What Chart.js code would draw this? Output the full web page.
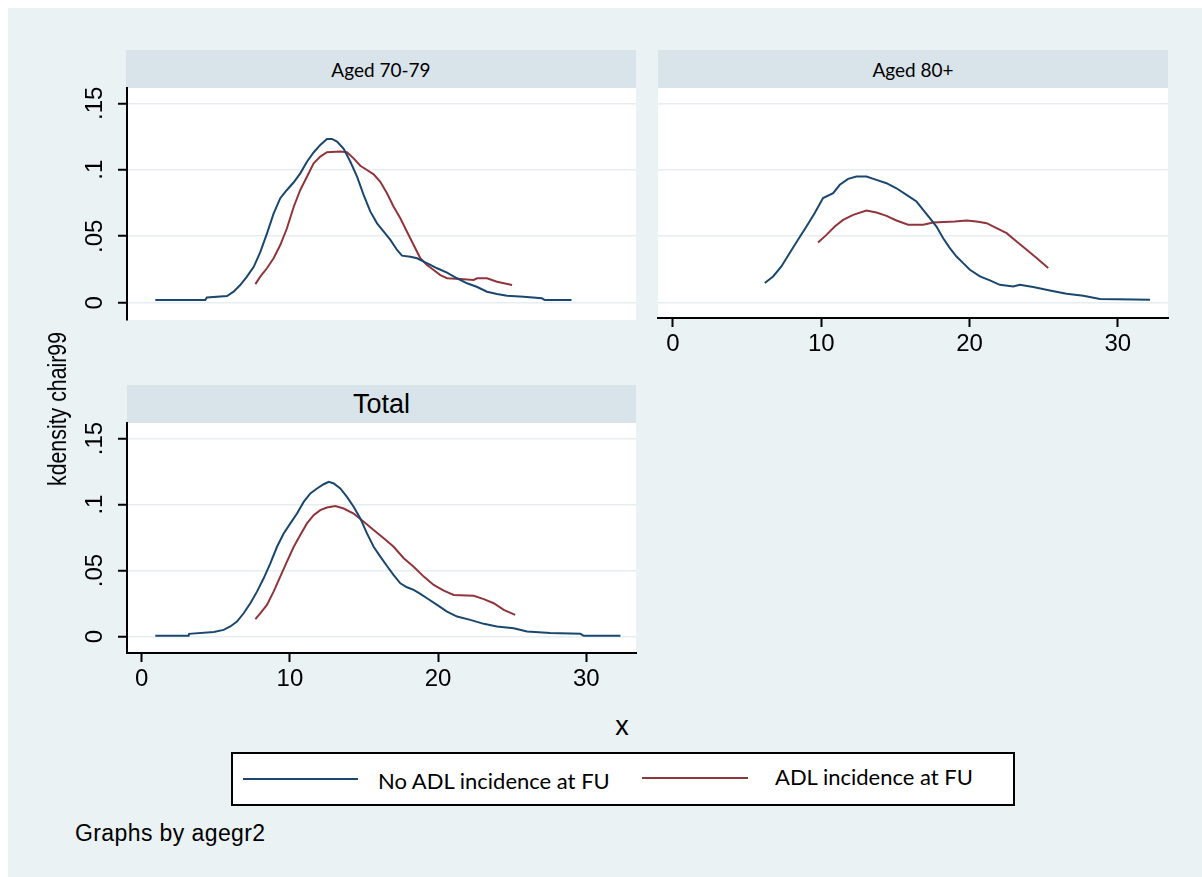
<!DOCTYPE html>
<html>
<head>
<meta charset="utf-8">
<script src="https://cdn.jsdelivr.net/npm/chart.js@4.4.1/dist/chart.umd.min.js"></script>
<style>
html,body{margin:0;padding:0;background:#fff;}
body{width:1202px;height:877px;position:relative;overflow:hidden;font-family:"Liberation Sans",Arial,sans-serif;color:#000;}
#bg{position:absolute;left:8px;top:8px;width:1194px;height:869px;background:#EAF2F3;}
.strip{position:absolute;background:#D9E4EA;display:flex;align-items:center;justify-content:center;}
.lato{font-family:Lato,"Open Sans",sans-serif;}
canvas{position:absolute;}
.abs{position:absolute;white-space:nowrap;}
#legend{position:absolute;left:231px;top:752px;width:784px;height:54px;box-sizing:border-box;border:2px solid #000;background:#fff;}
.lline{position:absolute;height:2px;}
</style>
</head>
<body>
<div id="bg"></div>

<div class="strip lato" style="left:126px;top:50px;width:510px;height:38px;font-size:19px;padding-top:1px;box-sizing:border-box;">Aged 70-79</div>
<div class="strip lato" style="left:658px;top:50px;width:510px;height:38px;font-size:19px;padding-top:1px;box-sizing:border-box;">Aged 80+</div>
<div class="strip" style="left:127px;top:385px;width:509px;height:38px;font-size:27px;">Total</div>

<canvas id="c1" width="600" height="250" style="left:40px;top:80px;width:600px;height:250px;"></canvas>
<canvas id="c2" width="600" height="300" style="left:600px;top:80px;width:600px;height:300px;"></canvas>
<canvas id="c3" width="600" height="285" style="left:40px;top:415px;width:600px;height:285px;"></canvas>

<div class="abs" style="left:57px;top:409px;font-size:26px;line-height:26px;transform:translate(-50%,-50%) rotate(-90deg) scaleX(0.82);">kdensity chair99</div>
<div class="abs" style="left:622px;top:726px;font-size:27px;line-height:27px;transform:translate(-50%,-50%);">x</div>

<div id="legend">
  <div class="lline" style="left:10px;top:24px;width:115px;background:#1A476F;"></div>
  <div class="abs lato" style="left:145px;top:27px;font-size:22px;line-height:22px;transform:translateY(-50%);">No ADL incidence at FU</div>
  <div class="lline" style="left:409px;top:23px;width:106px;background:#90353B;"></div>
  <div class="abs lato" style="left:542px;top:23px;font-size:22px;line-height:22px;transform:translateY(-50%);">ADL incidence at FU</div>
</div>

<div class="abs" style="left:75px;top:833px;font-size:23px;line-height:23px;letter-spacing:0.4px;transform:translateY(-50%);">Graphs by agegr2</div>

<script>
// ---- tick values / labels ----
const xTickVals = [0, 10, 20, 30];
const yTickVals = [0, 0.05, 0.1, 0.15];
const yTickLabels = ['0', '.05', '.1', '.15'];
const panelTitles = ['Aged 70-79', 'Aged 80+', 'Total'];
const seriesNames = ['No ADL incidence at FU', 'ADL incidence at FU'];

// ---- Aged 70-79 ----
const p1NoAdlX = [0.92, 4.29, 4.4, 5.76, 6.2, 6.65, 7.1, 7.56, 8.0, 8.45, 8.9, 9.35, 9.8, 10.26, 10.7, 11.15, 11.6, 12.05, 12.5, 12.84, 13.18, 13.63, 14.08, 14.53, 14.98, 15.43, 15.88, 16.33, 16.78, 17.23, 17.56, 18.13, 18.58, 19.03, 19.48, 19.93, 20.6, 21.28, 21.95, 22.6, 23.3, 23.97, 24.65, 25.77, 27.0, 27.2, 29.0];
const p1NoAdlY = [0.002, 0.002, 0.004, 0.005, 0.0083, 0.0133, 0.0196, 0.027, 0.038, 0.052, 0.067, 0.0786, 0.0848, 0.0906, 0.0973, 0.106, 0.113, 0.1187, 0.1232, 0.1232, 0.1212, 0.1157, 0.106, 0.0948, 0.081, 0.0685, 0.0597, 0.0534, 0.0472, 0.0397, 0.0354, 0.0346, 0.0334, 0.0309, 0.0284, 0.0259, 0.0226, 0.0184, 0.0146, 0.012, 0.0083, 0.0065, 0.0053, 0.0045, 0.0033, 0.002, 0.002];
const p1AdlX = [7.67, 8.0, 8.45, 8.9, 9.35, 9.8, 10.26, 10.7, 11.15, 11.6, 12.05, 12.5, 13.4, 13.85, 14.3, 14.75, 15.2, 15.65, 16.1, 16.55, 17.0, 17.45, 17.9, 18.35, 18.8, 19.25, 19.7, 20.15, 20.6, 21.5, 22.4, 22.63, 23.3, 23.97, 24.99];
const p1AdlY = [0.014, 0.0196, 0.0259, 0.0334, 0.0434, 0.056, 0.0722, 0.0848, 0.0948, 0.1049, 0.1099, 0.1132, 0.1137, 0.1132, 0.1086, 0.103, 0.0998, 0.0966, 0.091, 0.0823, 0.0722, 0.0635, 0.0534, 0.0434, 0.0334, 0.0284, 0.0246, 0.0208, 0.0184, 0.0178, 0.0171, 0.0184, 0.0184, 0.0158, 0.0133];

// ---- Aged 80+ ----
const p2NoAdlX = [6.19, 6.75, 7.31, 7.87, 8.43, 9.0, 9.56, 10.12, 10.8, 11.25, 11.81, 12.37, 13.05, 13.72, 14.4, 15.07, 15.75, 16.42, 16.87, 17.32, 17.77, 18.22, 18.67, 19.12, 19.57, 20.02, 20.7, 21.37, 22.04, 22.94, 23.39, 24.29, 25.42, 26.54, 27.67, 28.79, 32.17];
const p2NoAdlY = [0.0146, 0.0196, 0.0271, 0.0372, 0.0472, 0.0572, 0.0673, 0.0786, 0.0823, 0.0886, 0.0931, 0.0948, 0.0948, 0.0923, 0.0898, 0.086, 0.081, 0.076, 0.0698, 0.0635, 0.0572, 0.0484, 0.0409, 0.0346, 0.0296, 0.0246, 0.0196, 0.0166, 0.0133, 0.012, 0.0133, 0.0116, 0.009, 0.0065, 0.005, 0.0026, 0.002];
const p2AdlX = [9.78, 10.35, 10.91, 11.47, 12.15, 13.05, 13.72, 14.4, 15.07, 15.86, 16.87, 17.54, 19.0, 19.8, 20.47, 21.15, 21.82, 22.5, 23.17, 23.85, 24.52, 25.3];
const p2AdlY = [0.0451, 0.0509, 0.0572, 0.0622, 0.066, 0.0692, 0.0677, 0.0652, 0.0617, 0.0585, 0.0585, 0.0602, 0.061, 0.0617, 0.061, 0.0597, 0.056, 0.0522, 0.0459, 0.0397, 0.0334, 0.0259];

// ---- Total ----
const p3NoAdlX = [0.92, 3.17, 3.2, 4.86, 5.53, 5.98, 6.43, 6.88, 7.33, 7.78, 8.23, 8.68, 9.13, 9.58, 10.03, 10.48, 10.93, 11.38, 11.83, 12.28, 12.62, 12.96, 13.4, 13.85, 14.3, 14.75, 15.2, 15.65, 16.1, 16.55, 17.0, 17.45, 17.9, 18.35, 18.8, 19.25, 19.93, 20.6, 21.28, 22.17, 23.08, 23.97, 25.1, 26.0, 27.57, 29.6, 29.82, 32.3];
const p3NoAdlY = [0.0005, 0.0005, 0.002, 0.0035, 0.005, 0.0076, 0.0113, 0.0176, 0.0252, 0.034, 0.0441, 0.0554, 0.068, 0.0781, 0.0857, 0.0932, 0.102, 0.1084, 0.1122, 0.1154, 0.1172, 0.116, 0.1122, 0.1058, 0.0983, 0.0895, 0.0781, 0.068, 0.0605, 0.0534, 0.0466, 0.0403, 0.0373, 0.0353, 0.0323, 0.029, 0.024, 0.0189, 0.0151, 0.0126, 0.0096, 0.0076, 0.0063, 0.0038, 0.0026, 0.002, 0.0005, 0.0005];
const p3AdlX = [7.67, 8.0, 8.45, 8.9, 9.35, 9.8, 10.26, 10.7, 11.15, 11.6, 12.05, 12.5, 13.06, 13.63, 14.3, 14.98, 15.65, 16.33, 17.0, 17.68, 18.35, 19.03, 19.7, 20.38, 21.05, 22.4, 23.08, 23.75, 24.43, 25.2];
const p3AdlY = [0.0131, 0.0176, 0.024, 0.034, 0.0454, 0.0567, 0.068, 0.0769, 0.0857, 0.092, 0.0958, 0.0978, 0.0988, 0.097, 0.0932, 0.0869, 0.0807, 0.0744, 0.068, 0.0593, 0.0529, 0.0454, 0.0391, 0.0348, 0.0315, 0.0308, 0.0283, 0.0252, 0.0202, 0.0164];

const NAVY = '#1A476F';
const MAROON = '#90353B';
const GRID = 'rgb(230,238,241)';
const TICKFONT = {family: '"Liberation Sans", Arial, sans-serif', size: 24};

function pts(xs, ys) { return xs.map((x, i) => ({x: x, y: ys[i]})); }

function makePanel(id, blueX, blueY, redX, redY, cfg) {
  const resetPad = s => { s.paddingTop = 0; s.paddingBottom = 0; s.paddingLeft = 0; s.paddingRight = 0; };
  new Chart(document.getElementById(id), {
    type: 'scatter',
    data: {
      datasets: [
        {label: seriesNames[0], data: pts(blueX, blueY), showLine: true, borderColor: NAVY, borderWidth: 2, pointRadius: 0, tension: 0, fill: false},
        {label: seriesNames[1], data: pts(redX, redY), showLine: true, borderColor: MAROON, borderWidth: 2, pointRadius: 0, tension: 0, fill: false}
      ]
    },
    plugins: [{
      id: 'plotbg',
      beforeDraw(chart) {
        const a = chart.chartArea, c = chart.ctx;
        c.save(); c.fillStyle = '#fff'; c.fillRect(a.left, a.top, a.right - a.left, a.bottom - a.top); c.restore();
      }
    }],
    options: {
      responsive: false, animation: false, devicePixelRatio: 1,
      layout: {padding: cfg.pad},
      plugins: {legend: {display: false}, tooltip: {enabled: false}},
      scales: {
        x: {
          type: 'linear', position: 'bottom', min: cfg.xMin, max: cfg.xMax, display: cfg.showX,
          afterBuildTicks: s => { s.ticks = xTickVals.map(v => ({value: v})); },
          ticks: {autoSkip: false, maxRotation: 0, minRotation: 0, font: TICKFONT, color: '#000', padding: 3, callback: v => String(v)},
          grid: {drawOnChartArea: false, drawTicks: true, tickLength: 9, tickWidth: 2, tickColor: '#000'},
          border: {display: true, color: '#000', width: 2},
          afterFit: s => { resetPad(s); if (cfg.showX) s.height = cfg.xH; }
        },
        y: {
          type: 'linear', min: cfg.yMin, max: cfg.yMax,
          afterBuildTicks: s => { s.ticks = yTickVals.map(v => ({value: v})); },
          ticks: {display: cfg.showY, autoSkip: false, minRotation: 90, maxRotation: 90, crossAlign: 'center', padding: 6, font: TICKFONT, color: '#000', callback: (v, i) => yTickLabels[i]},
          grid: {color: GRID, lineWidth: 1.5, drawTicks: cfg.showY, tickLength: 9, tickWidth: 2, tickColor: '#000'},
          border: {display: cfg.showY, color: '#000', width: 2},
          afterFit: s => { resetPad(s); s.width = cfg.yW; }
        }
      }
    }
  });
}

makePanel('c1', p1NoAdlX, p1NoAdlY, p1AdlX, p1AdlY,
  {pad: {left: 0, top: 8, right: 4, bottom: 10}, xMin: -0.99, xMax: 33.35, yMin: -0.013, yMax: 0.1615, showX: false, showY: true, yW: 87, xH: 0});
makePanel('c2', p2NoAdlX, p2NoAdlY, p2AdlX, p2AdlY,
  {pad: {left: 0, top: 8, right: 32, bottom: 0}, xMin: -1.01, xMax: 33.38, yMin: -0.0117, yMax: 0.1615, showX: true, showY: false, yW: 58, xH: 62});
makePanel('c3', p3NoAdlX, p3NoAdlY, p3AdlX, p3AdlY,
  {pad: {left: 0, top: 8, right: 4, bottom: 0}, xMin: -0.99, xMax: 33.35, yMin: -0.0125, yMax: 0.1618, showX: true, showY: true, yW: 87, xH: 47});
</script>
</body>
</html>
